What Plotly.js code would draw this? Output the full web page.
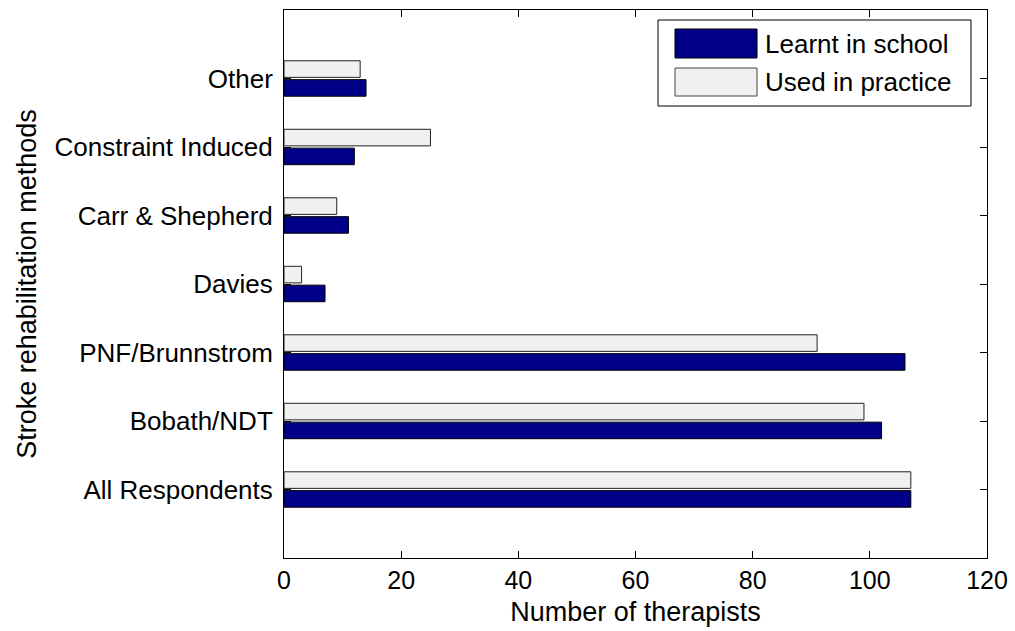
<!DOCTYPE html>
<html>
<head>
<meta charset="utf-8">
<script src="https://cdn.plot.ly/plotly-3.0.1.min.js"></script>
<style>html,body{margin:0;padding:0;background:#fff;}#chart{width:1015px;height:631px;}</style>
</head>
<body>
<div id="chart"></div>
<script>
const categories = ["All Respondents", "Bobath/NDT", "PNF/Brunnstrom", "Davies", "Carr & Shepherd", "Constraint Induced", "Other"];
const learntInSchool = [107, 102, 106, 7, 11, 12, 14];
const usedInPractice = [107, 99, 91, 3, 9, 25, 13];
const seriesNames = ["Learnt in school", "Used in practice"];
const xTicks = [0, 20, 40, 60, 80, 100, 120];

const FONT = "Liberation Sans, Arial, Helvetica, sans-serif";
const navy = "#000088";
const light = "#F0F0F0";

const traces = [
  {type: "bar", orientation: "h", name: seriesNames[0], y: categories, x: learntInSchool,
   marker: {color: navy, line: {color: "#000000", width: 1}}, showlegend: false, hoverinfo: "x+y"},
  {type: "bar", orientation: "h", name: seriesNames[1], y: categories, x: usedInPractice,
   marker: {color: light, line: {color: "#222222", width: 1}}, showlegend: false, hoverinfo: "x+y"}
];

const W = 1015, H = 631;
const ML = 284, MR = 28, MT = 10, MB = 73;
const PW = W - ML - MR, PH = H - MT - MB;
const px = v => (v - ML) / PW, py = v => 1 - (v - MT) / PH;

const layout = {
  width: W, height: H,
  margin: {l: ML, r: MR, t: MT, b: MB, pad: 0},
  paper_bgcolor: "#ffffff", plot_bgcolor: "#ffffff",
  font: {family: FONT, size: 26, color: "#000000"},
  barmode: "group", bargap: 0.45, bargroupgap: 0.12,
  xaxis: {
    range: [0, 120], tickvals: xTicks, ticktext: xTicks.map(String),
    ticks: "inside", ticklen: 7, tickcolor: "#000", tickwidth: 1,
    showline: true, linecolor: "#000", linewidth: 1, mirror: "ticks",
    showgrid: false, zeroline: false, fixedrange: true,
    tickfont: {family: FONT, size: 25},
    title: {text: "Number of therapists", font: {family: FONT, size: 27}, standoff: 9}
  },
  yaxis: {
    type: "category", categoryorder: "array", categoryarray: categories,
    range: [-1, 7],
    ticks: "inside", ticklen: 7, tickcolor: "#000", tickwidth: 1,
    showline: true, linecolor: "#000", linewidth: 1, mirror: "ticks",
    showgrid: false, zeroline: false, fixedrange: true,
    tickfont: {family: FONT, size: 26},
    ticklabelstandoff: 5,
    title: {text: "Stroke rehabilitation methods", font: {family: FONT, size: 27}, standoff: 10}
  },
  shapes: [
    {type: "rect", xref: "paper", yref: "paper", x0: px(658), x1: px(971), y0: py(20), y1: py(106),
     line: {color: "#000", width: 1}, fillcolor: "#ffffff", layer: "above"},
    {type: "rect", xref: "paper", yref: "paper", x0: px(675), x1: px(757), y0: py(29), y1: py(58),
     line: {color: "#000", width: 1}, fillcolor: navy, layer: "above"},
    {type: "rect", xref: "paper", yref: "paper", x0: px(675), x1: px(757), y0: py(68), y1: py(96),
     line: {color: "#444", width: 1}, fillcolor: light, layer: "above"}
  ],
  annotations: [
    {xref: "paper", yref: "paper", x: px(763), y: py(44), xanchor: "left", yanchor: "middle",
     text: seriesNames[0], showarrow: false, font: {family: FONT, size: 26, color: "#000"}},
    {xref: "paper", yref: "paper", x: px(763), y: py(82), xanchor: "left", yanchor: "middle",
     text: seriesNames[1], showarrow: false, font: {family: FONT, size: 26, color: "#000"}}
  ]
};

Plotly.newPlot("chart", traces, layout, {displayModeBar: false, staticPlot: true});
</script>
</body>
</html>
